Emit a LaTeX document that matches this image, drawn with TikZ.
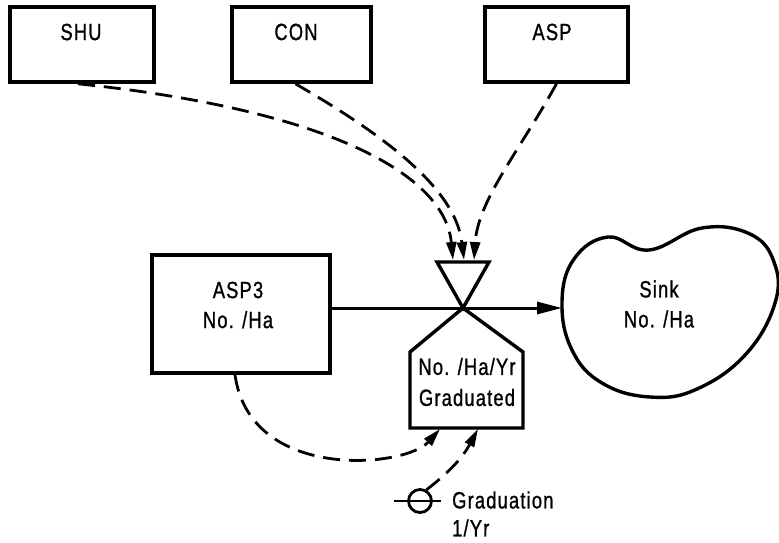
\documentclass[tikz,border=0pt]{standalone}
\usepackage{fontspec}
\setmainfont{Liberation Sans}[FakeStretch=0.78, FakeBold=1, LetterSpace=5]
\usetikzlibrary{arrows.meta,calc}
\begin{document}
\begin{tikzpicture}[x=1pt,y=-1pt,
  txt/.style={font=\fontsize{23.5}{27}\selectfont, align=center, inner sep=0pt},
  stock/.style={draw, line width=3.6pt, rectangle, inner sep=0pt},
  info/.style={line width=2.8pt, dash pattern=on 17pt off 9pt,
    -{Triangle[length=18pt,width=10pt]}},
  flow/.style={line width=3pt, -{Triangle[length=25pt,width=12pt]}},
  outline/.style={line width=3.4pt, line join=miter}]
\useasboundingbox (0,0) rectangle (779,543);

% auxiliary boxes on top
\node[stock, minimum width=144pt, minimum height=75pt] (shu) at (82,44.5) {};
\node[txt] (shut) at (81,32) {SHU};
\node[stock, minimum width=139pt, minimum height=75pt] (con) at (301.5,44.5) {};
\node[txt] (cont) at (296,32) {CON};
\node[stock, minimum width=143pt, minimum height=75pt] (asp) at (556.5,44.5) {};
\node[txt] (aspt) at (552,32) {ASP};

% level ASP3
\node[stock, minimum width=178pt, minimum height=118pt] (asp3) at (241,314) {};
\node[txt] (asp3t) at (238,305) {ASP3\\[3pt]No. /Ha};

% sink cloud
\draw[outline] plot[smooth cycle, tension=0.7] coordinates {
  (562,302) (574,259) (608,237) (649,250) (702,228) (750,234)
  (774,262) (775,303) (746,354) (697,389) (650,397) (602,383)
  (572,350)};
\node[txt] (sink) at (659,304) {Sink\\[3pt]No. /Ha};
\coordinate (sinkin) at (562,308);

% valve with its rate box
\coordinate (apex) at (463,308);
\draw[outline] (437,262) -- (489,262) -- (apex) -- cycle;
\draw[outline] (apex) -- (523,352) -- (523,428) -- (410,428) -- (410,352) -- cycle;
\node[txt] (rate) at (467,382) {No. /Ha/Yr\\[4pt]Graduated};
\coordinate (in1) at (453,260);
\coordinate (in2) at (464,260);
\coordinate (in3) at (474,260);
\coordinate (rin1) at (440,429);
\coordinate (rin2) at (478,429);

% material flow
\draw[flow] (asp3.east |- apex) -- (apex) -- (sinkin);

% information links into the valve
\draw[info] ([xshift=-4pt]shu.south) .. controls (330,110) and (445,175) .. (in1);
\draw[info] ([xshift=-6pt]con.south) .. controls (375,130) and (455,185) .. (in2);
\draw[info] (asp.south) .. controls (520,150) and (478,200) .. (in3);

% graduation constant
\node[draw, circle, line width=2.8pt, minimum size=23pt, inner sep=0pt] (grad) at (420,501) {};
\draw[line width=2.6pt] ([xshift=-13pt]grad.west) -- ([xshift=8pt]grad.east);
\node[txt, anchor=west] (gradt) at (452,500) {Graduation};
\node[txt, anchor=west] (gradu) at (452,528) {1/Yr};

% information links into the rate
\draw[info] ([xshift=-6pt]asp3.south) .. controls (250,482) and (405,468) .. (rin1);
\draw[info] (grad.60) to[bend right=12] (rin2);
\end{tikzpicture}
\end{document}
